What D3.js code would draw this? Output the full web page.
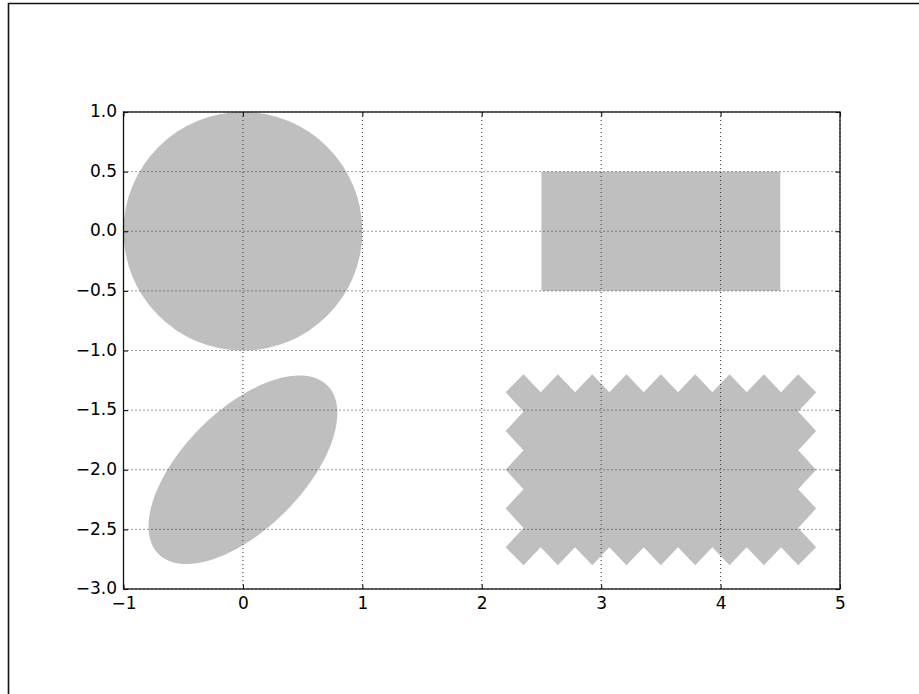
<!DOCTYPE html>
<html>
<head>
<meta charset="utf-8">
<script src="https://cdn.jsdelivr.net/npm/d3@7"></script>
<style>
  html, body { margin: 0; padding: 0; background: #fff; }
  svg { display: block; }
  text { font-family: "DejaVu Sans", sans-serif; }
</style>
</head>
<body>
<svg id="chart" width="919" height="694"></svg>
<script>
// ---- Data (data units) ----
const xDomain = [-1, 5];
const yDomain = [-3, 1];
const xTicks = [-1, 0, 1, 2, 3, 4, 5];
const yTicks = [-3.0, -2.5, -2.0, -1.5, -1.0, -0.5, 0.0, 0.5, 1.0];

// circle: [cx, cy, r]
const circles = [[0, 0, 1]];
// rectangle: [x, y, width, height]
const rects = [[2.5, -0.5, 2, 1]];
// ellipse: [cx, cy, width, height, angleDeg]
const ellipses = [[0, -2, 1, 2, -45]];
// sawtooth box: [x, y, width, height, pad]
const sawBoxes = [[2.5, -2.5, 2, 1, 0.3]];

const fillColor = "#bfbfbf";

// ---- Layout ----
const svg = d3.select("#chart");
const axLeft = 123.5, axRight = 840, axTop = 112, axBottom = 589;
const x = d3.scaleLinear().domain(xDomain).range([axLeft, axRight]);
const y = d3.scaleLinear().domain(yDomain).range([axBottom, axTop]);

// Figure frame (partially visible)
svg.append("path")
  .attr("d", "M8.5,694 V3.5 H919")
  .attr("fill", "none").attr("stroke", "#111").attr("stroke-width", 1.6);

const line = d3.line().x(d => x(d[0])).y(d => y(d[1]));

// Clip to axes
svg.append("clipPath").attr("id", "clip")
  .append("rect").attr("x", axLeft).attr("y", axTop)
  .attr("width", axRight - axLeft).attr("height", axBottom - axTop);
const g = svg.append("g").attr("clip-path", "url(#clip)");

// Circles
circles.forEach(([cx, cy, r]) => {
  g.append("ellipse")
    .attr("cx", x(cx)).attr("cy", y(cy))
    .attr("rx", x(cx + r) - x(cx)).attr("ry", y(cy) - y(cy + r))
    .attr("fill", fillColor);
});

// Rectangles
rects.forEach(([rx, ry, w, h]) => {
  g.append("rect")
    .attr("x", x(rx)).attr("y", y(ry + h))
    .attr("width", x(rx + w) - x(rx)).attr("height", y(ry) - y(ry + h))
    .attr("fill", fillColor);
});

// Ellipses (parametric outline in data space)
ellipses.forEach(([cx, cy, w, h, ang]) => {
  const a = w / 2, b = h / 2, t = ang * Math.PI / 180;
  const pts = d3.range(0, 361, 2).map(deg => {
    const p = deg * Math.PI / 180;
    const ex = a * Math.cos(p), ey = b * Math.sin(p);
    return [cx + ex * Math.cos(t) - ey * Math.sin(t), cy + ex * Math.sin(t) + ey * Math.cos(t)];
  });
  g.append("path").attr("d", line(pts) + "Z").attr("fill", fillColor);
});

// Sawtooth box (matplotlib BoxStyle.Sawtooth geometry)
function linspace(a, b, n) { return d3.range(n).map(i => a + (b - a) * i / (n - 1)); }
function sawtooth(x0, y0, width, height, padFrac) {
  const pad = padFrac;
  const tooth = padFrac * 0.5;
  const hsz = tooth / 2;
  width = width + 2 * pad - tooth;
  height = height + 2 * pad - tooth;
  const dsxN = Math.round((width - tooth) / (tooth * 2)) * 2;
  const dsyN = Math.round((height - tooth) / (tooth * 2)) * 2;
  x0 = x0 - pad + hsz; y0 = y0 - pad + hsz;
  const x1 = x0 + width, y1 = y0 + height;
  const rep = (arr, n, len) => { const out = []; for (let i = 0; i < n; i++) out.push(...arr); return out.slice(0, len); };
  const xs = [
    x0, ...linspace(x0 + hsz, x1 - hsz, 2 * dsxN + 1),
    ...rep([x1, x1 + hsz, x1, x1 - hsz], dsyN, 2 * dsyN + 2),
    x1, ...linspace(x1 - hsz, x0 + hsz, 2 * dsxN + 1),
    ...rep([x0, x0 - hsz, x0, x0 + hsz], dsyN, 2 * dsyN + 2)
  ];
  const ys = [
    ...rep([y0, y0 - hsz, y0, y0 + hsz], dsxN, 2 * dsxN + 2),
    y0, ...linspace(y0 + hsz, y1 - hsz, 2 * dsyN + 1),
    ...rep([y1, y1 + hsz, y1, y1 - hsz], dsxN, 2 * dsxN + 2),
    y1, ...linspace(y1 - hsz, y0 + hsz, 2 * dsyN + 1)
  ];
  return xs.map((v, i) => [v, ys[i]]);
}
sawBoxes.forEach(([bx, by, w, h, pad]) => {
  g.append("path").attr("d", line(sawtooth(bx, by, w, h, pad)) + "Z").attr("fill", fillColor);
});

// Grid (drawn above patches)
const grid = svg.append("g");
xTicks.forEach(t => {
  grid.append("line").attr("x1", x(t)).attr("x2", x(t)).attr("y1", axTop).attr("y2", axBottom)
    .attr("stroke", "#333").attr("stroke-width", 1).attr("stroke-dasharray", "1,3");
});
yTicks.forEach(t => {
  grid.append("line").attr("x1", axLeft).attr("x2", axRight).attr("y1", y(t)).attr("y2", y(t))
    .attr("stroke", "#333").attr("stroke-width", 1).attr("stroke-dasharray", "1,3");
});

// Axes frame
svg.append("rect").attr("x", axLeft).attr("y", axTop)
  .attr("width", axRight - axLeft).attr("height", axBottom - axTop)
  .attr("fill", "none").attr("stroke", "#111").attr("stroke-width", 1.3);

// Ticks (inward, all four sides) + labels via d3 axes
const tickLen = 4.5;
const fmtX = d => d3.format("d")(d).replace("-", "\u2212");
const fmtY = d => d3.format(".1f")(d).replace("-", "\u2212");

const xAxis = svg.append("g").attr("transform", `translate(0,${axBottom})`)
  .call(d3.axisBottom(x).tickValues(xTicks).tickSize(-tickLen).tickPadding(tickLen + 6).tickFormat(fmtX));
const xAxisTop = svg.append("g").attr("transform", `translate(0,${axTop})`)
  .call(d3.axisTop(x).tickValues(xTicks).tickSize(-tickLen).tickFormat(""));
const yAxis = svg.append("g").attr("transform", `translate(${axLeft},0)`)
  .call(d3.axisLeft(y).tickValues(yTicks).tickSize(-tickLen).tickPadding(6.5).tickFormat(fmtY));
const yAxisRight = svg.append("g").attr("transform", `translate(${axRight},0)`)
  .call(d3.axisRight(y).tickValues(yTicks).tickSize(-tickLen).tickFormat(""));

[xAxis, xAxisTop, yAxis, yAxisRight].forEach(a => {
  a.select(".domain").remove();
  a.selectAll(".tick line").attr("stroke", "#111").attr("stroke-width", 1.1);
  a.selectAll("text").attr("font-family", "DejaVu Sans, sans-serif").attr("font-size", "17px").attr("fill", "#000");
});
xAxis.selectAll("text").attr("y", 20.4).attr("dy", 0);
yAxis.selectAll("text").attr("x", -6.5).attr("y", 4.7).attr("dy", 0);
</script>
</body>
</html>
